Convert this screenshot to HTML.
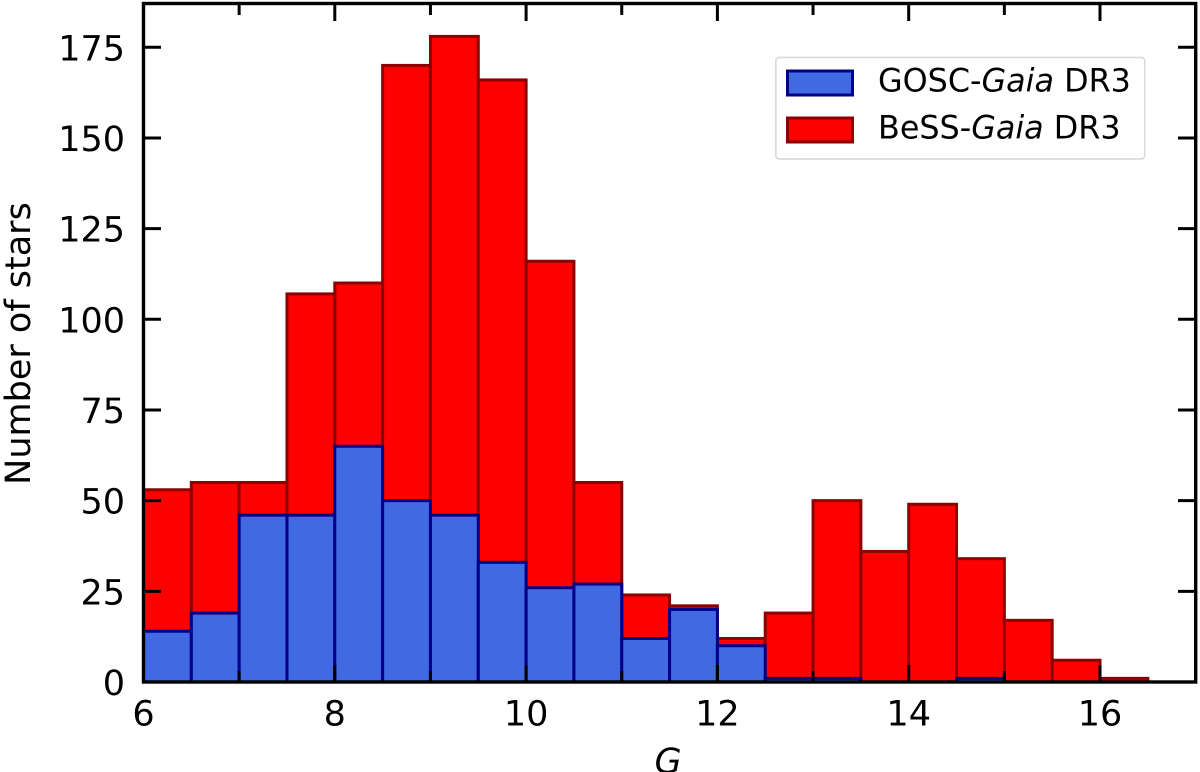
<!DOCTYPE html>
<html>
<head>
<meta charset="utf-8">
<title>Histogram of G magnitude</title>
<style>
html,body{margin:0;padding:0;background:#fff;width:1200px;height:772px;overflow:hidden}
svg{display:block}
text{font-family:"DejaVu Sans",sans-serif;fill:#000}
</style>
</head>
<body>
<svg id="chart" xmlns="http://www.w3.org/2000/svg" width="1200" height="772" viewBox="0 0 1200 772">
  <g id="bars-bess"></g>
  <g id="bars-gosc"></g>
  <g id="ticks"></g>
  <g id="tick-labels"></g>
  <rect x="143.5" y="3.5" width="1052.2" height="678.5" fill="none" stroke="#000" stroke-width="3.4"/>
  <text x="668" y="773" font-size="35" font-style="italic" text-anchor="middle">G</text>
  <text transform="translate(30,343.5) rotate(-90)" font-size="35" text-anchor="middle">Number of stars</text>
  <g>
    <rect x="775.8" y="57.5" width="369" height="101.5" rx="3.5" fill="#fff" stroke="#dcdcdc" stroke-width="1.7"/>
    <rect x="787.5" y="71" width="65" height="24" fill="#4169e1" stroke="#00008b" stroke-width="3"/>
    <text x="878" y="91.7" font-size="31.8">GOSC-<tspan font-style="italic">Gaia</tspan> DR3</text>
    <rect x="787.5" y="118" width="65" height="24" fill="#ff0000" stroke="#8b0000" stroke-width="3"/>
    <text x="878" y="138.5" font-size="31.8">BeSS-<tspan font-style="italic">Gaia</tspan> DR3</text>
  </g>
</svg>
<script>
const binEdgesStart = [6, 6.5, 7, 7.5, 8, 8.5, 9, 9.5, 10, 10.5, 11, 11.5, 12, 12.5, 13, 13.5, 14, 14.5, 15, 15.5, 16];
const binWidth = 0.5;
const bessCounts = [53, 55, 55, 107, 110, 170, 178, 166, 116, 55, 24, 21, 12, 19, 50, 36, 49, 34, 17, 6, 1];
const goscCounts = [14, 19, 46, 46, 65, 50, 46, 33, 26, 27, 12, 20, 10, 1, 1, 0, 0, 1, 0, 0, 0];
const xMajorTicks = [6, 8, 10, 12, 14, 16];
const xMinorTicks = [7, 9, 11, 13, 15];
const yMajorTicks = [0, 25, 50, 75, 100, 125, 150, 175];

const NS = 'http://www.w3.org/2000/svg';
const xScale = function (v) { return 143.5 + (v - 6) * 95.65; };
const yScale = function (v) { return 682 - v * 3.627; };

function drawBars(groupId, counts, fill, stroke, name) {
  const g = document.getElementById(groupId);
  counts.forEach(function (c, i) {
    if (c <= 0) return;
    const r = document.createElementNS(NS, 'rect');
    const x0 = xScale(binEdgesStart[i]);
    const x1 = xScale(binEdgesStart[i] + binWidth);
    r.setAttribute('x', x0);
    r.setAttribute('y', yScale(c));
    r.setAttribute('width', x1 - x0);
    r.setAttribute('height', yScale(0) - yScale(c));
    r.setAttribute('fill', fill);
    r.setAttribute('stroke', stroke);
    r.setAttribute('stroke-width', '3');
    
    
    g.appendChild(r);
  });
}
drawBars('bars-bess', bessCounts, '#ff0000', '#8b0000', 'bess-bar');
drawBars('bars-gosc', goscCounts, '#4169e1', '#00008b', 'gosc-bar');

const ticks = document.getElementById('ticks');
function tick(x1, y1, x2, y2, name) {
  const l = document.createElementNS(NS, 'line');
  l.setAttribute('x1', x1);
  l.setAttribute('y1', y1);
  l.setAttribute('x2', x2);
  l.setAttribute('y2', y2);
  l.setAttribute('stroke', '#000');
  l.setAttribute('stroke-width', '3');
  
  
  ticks.appendChild(l);
}
const labels = document.getElementById('tick-labels');
function label(x, y, anchor, str, name) {
  const t = document.createElementNS(NS, 'text');
  t.setAttribute('x', x);
  t.setAttribute('y', y);
  t.setAttribute('text-anchor', anchor);
  t.setAttribute('font-size', '35');
  
  
  t.textContent = str;
  labels.appendChild(t);
}
xMajorTicks.forEach(function (v) {
  const x = xScale(v);
  if (v !== 6) {
    tick(x, 682, x, 665, 'x-major-tick');
    tick(x, 3.5, x, 21, 'x-major-tick-top');
  }
  label(x, 725.5, 'middle', String(v), 'x-tick-label');
});
xMinorTicks.forEach(function (v) {
  const x = xScale(v);
  tick(x, 682, x, 671, 'x-minor-tick');
  tick(x, 3.5, x, 15, 'x-minor-tick-top');
});
yMajorTicks.forEach(function (v) {
  const y = yScale(v);
  if (v !== 0) {
    tick(143.5, y, 161, y, 'y-major-tick');
    tick(1195.7, y, 1178, y, 'y-major-tick-right');
  }
  label(125, y + 13, 'end', String(v), 'y-tick-label');
});
</script>
</body>
</html>
